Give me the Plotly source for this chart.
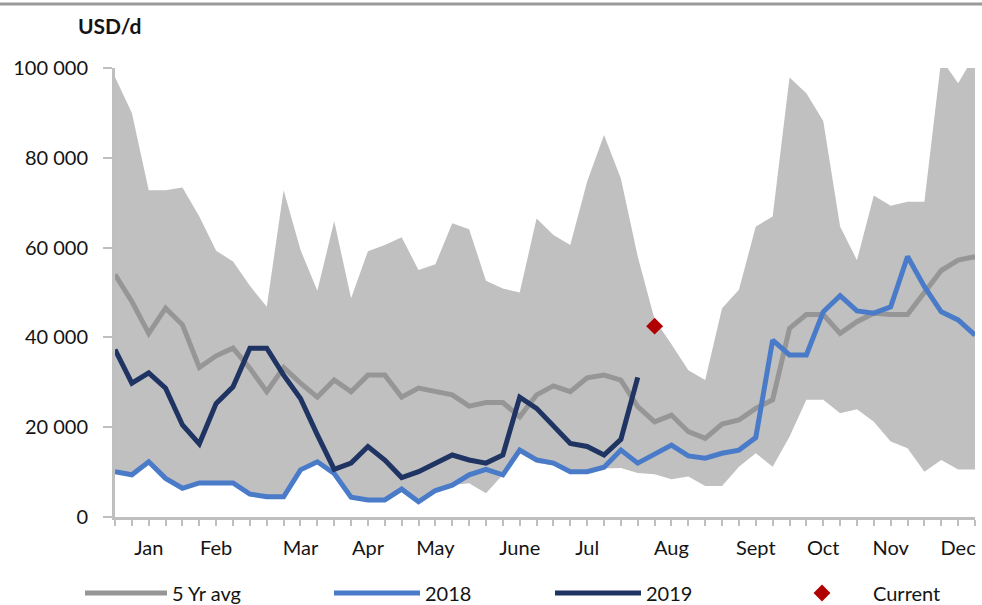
import plotly.graph_objects as go

weeks = list(range(1, 53))

month_labels = ["Jan", "Feb", "Mar", "Apr", "May", "June", "Jul", "Aug", "Sept", "Oct", "Nov", "Dec"]
month_weeks = [3, 7, 12, 16, 20, 25, 29, 34, 39, 43, 47, 51]

y_tick_vals = [0, 20000, 40000, 60000, 80000, 100000]
y_tick_text = ["0", "20 000", "40 000", "60 000", "80 000", "100 000"]

range_max = [98000, 90000, 72800, 72800, 73400, 66900, 59300, 56900, 51500, 46800,
             72800, 59500, 50400, 65900, 48700, 59200, 60600, 62300, 55000, 56300,
             65400, 64100, 52600, 50900, 50000, 66500, 62800, 60600, 74700, 85100,
             75400, 58000, 44000, 38500, 32700, 30500, 46500, 50600, 64700, 66900,
             97900, 94400, 88200, 64700, 57200, 71600, 69300, 70200, 70200, 102000,
             96600, 103000]

y2018 = [10100, 9400, 12300, 8600, 6400, 7600, 7600, 7600, 5100, 4500,
         4500, 10500, 12300, 9700, 4400, 3800, 3800, 6200, 3400, 5900,
         7100, 9400, 10600, 9400, 14900, 12700, 12000, 10100, 10100, 11100,
         14900, 12000, 14000, 16000, 13600, 13100, 14200, 14900, 17700, 39400,
         36100, 36100, 45700, 49300, 45900, 45400, 46800, 58000, 51300, 45700,
         43900, 40500]

range_min = [10100, 9400, 12300, 8600, 6400, 7600, 7600, 7600, 5100, 4500,
             4500, 10500, 12300, 9700, 4400, 3800, 3800, 6200, 3400, 5900,
             7100, 7500, 5300, 9400, 14200, 12000, 11500, 9700, 10000, 10800,
             10900, 9800, 9500, 8400, 9000, 6900, 6900, 11200, 14200, 11200,
             17900, 26100, 26100, 23100, 24000, 21200, 16800, 15300, 10100, 12700,
             10600, 10600]

avg5 = [54000, 48000, 40900, 46500, 42800, 33300, 35900, 37600, 33100, 27900,
        33300, 29800, 26700, 30500, 27900, 31600, 31600, 26700, 28700, 27900,
        27200, 24700, 25500, 25500, 22300, 27200, 29200, 27900, 31000, 31600,
        30500, 24600, 21200, 22700, 19000, 17500, 20700, 21600, 24200, 26100,
        42000, 45100, 45100, 40900, 43500, 45400, 45100, 45100, 50200, 54900,
        57200, 58000]

y2019 = [37300, 29800, 32100, 28700, 20500, 16300, 25300, 29000, 37600, 37600,
         31600, 26400, 18300, 10600, 12000, 15700, 12700, 8800, 10100, 12100,
         13800, 12700, 12000, 13800, 26700, 24200, 20100, 16400, 15700, 13800,
         17300, 31100]

current_week = [33]
current_value = [42500]

FONT = "Lato"
TXT = "#141414"
AX = "#bfbfbf"

fig = go.Figure()

fig.add_trace(go.Scatter(x=weeks, y=range_min, mode="lines", line=dict(width=0, color="#c0c0c0"),
                         showlegend=False, hoverinfo="skip"))
fig.add_trace(go.Scatter(x=weeks, y=range_max, mode="lines", line=dict(width=0, color="#c0c0c0"),
                         fill="tonexty", fillcolor="#c0c0c0", showlegend=False, hoverinfo="skip"))

fig.add_trace(go.Scatter(x=weeks, y=avg5, mode="lines", name="5 Yr avg",
                         line=dict(color="#969696", width=5), legend="legend"))
fig.add_trace(go.Scatter(x=weeks, y=y2018, mode="lines", name="2018",
                         line=dict(color="#4a7bc8", width=5), legend="legend2"))
fig.add_trace(go.Scatter(x=weeks[:len(y2019)], y=y2019, mode="lines", name="2019",
                         line=dict(color="#1f3462", width=5), legend="legend3"))
fig.add_trace(go.Scatter(x=current_week, y=current_value, mode="markers", name="Current",
                         marker=dict(symbol="diamond", color="#b00000", size=13), legend="legend4"))

def leg(x, w):
    return dict(orientation="h", yanchor="middle", y=-(593 - 517) / 449, xanchor="left", x=x,
                font=dict(family=FONT, size=20, color=TXT), bgcolor="rgba(0,0,0,0)",
                itemwidth=w, tracegroupgap=0)

fig.update_layout(
    legend=leg((80 - 115) / 860, 82),
    legend2=leg((329 - 115) / 860, 86),
    legend3=leg((550 - 115) / 860, 86),
    legend4=leg((771 - 115) / 860, 92),
)

fig.update_layout(
    width=982, height=605,
    margin=dict(l=115, r=7, t=68, b=88, autoexpand=False),
    paper_bgcolor="white", plot_bgcolor="white",
    font=dict(family=FONT, size=20, color=TXT),
    title=dict(text="<b>USD/d</b>", x=78 / 982, xanchor="left", xref="container",
               y=1 - 27 / 605, yanchor="middle", yref="container",
               font=dict(family=FONT, size=21, color=TXT)),
    xaxis=dict(range=[1, 52], tickvals=month_weeks, ticktext=month_labels,
               showgrid=False, zeroline=False, showline=True, linecolor=AX, linewidth=3,
               ticks="outside", ticklen=6, tickwidth=2, tickcolor=AX,
               ticklabelstandoff=5,
               minor=dict(tick0=1, dtick=1, ticks="outside", ticklen=6, tickwidth=2, tickcolor=AX),
               tickfont=dict(family=FONT, size=20, color=TXT), fixedrange=True),
    yaxis=dict(range=[0, 100000], tickvals=y_tick_vals, ticktext=y_tick_text,
               showgrid=False, zeroline=False, showline=True, linecolor=AX, linewidth=3,
               ticks="outside", ticklen=9, tickwidth=2, tickcolor=AX,
               ticklabelstandoff=11,
               tickfont=dict(family=FONT, size=20, color=TXT), fixedrange=True),
    shapes=[dict(type="line", xref="paper", yref="paper", x0=-0.14, x1=1.02,
                 y0=(517 - 4) / 449, y1=(517 - 4) / 449, line=dict(color="#9a9a9a", width=3))],
)

fig.write_html("out.html", config={"displayModeBar": False},
               post_script="document.body.style.margin='0';document.body.style.padding='0';")
